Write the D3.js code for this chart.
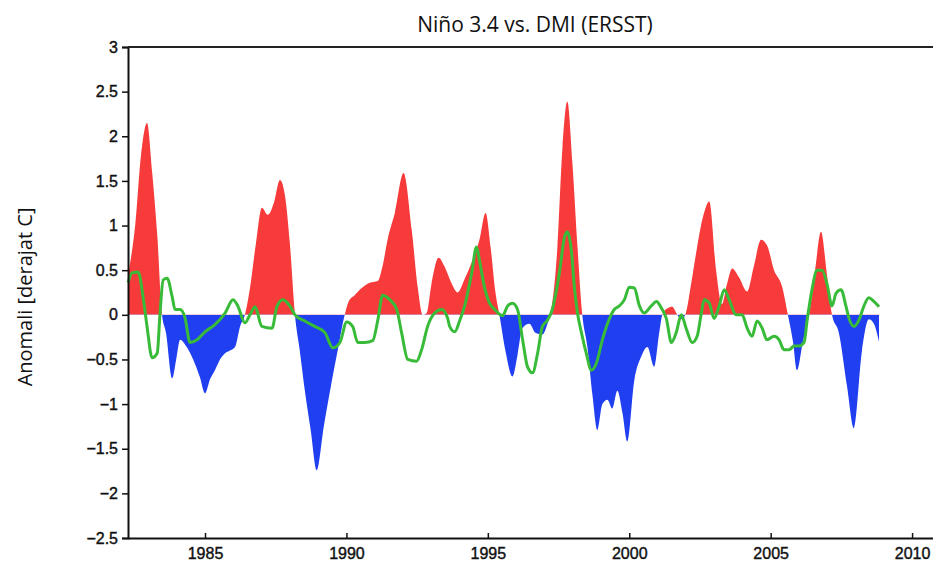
<!doctype html>
<html>
  <head>
    <meta charset="utf-8">
    <title>Nino 3.4 vs DMI</title>
    <script src="https://d3js.org/d3.v7.min.js"></script>
    <style type="text/css">
      body { margin: 0; background-color: #ffffff; }
      svg { display: block; }
    </style>
  </head>
  <body>
    <script>
// Niño 3.4 anomaly (filled red / blue)
var ninoYears = [1982.28, 1982.53, 1982.74, 1982.95, 1983.13, 1983.31, 1983.48, 1983.62, 1983.84, 1983.98,
  1984.12, 1984.33, 1984.58, 1984.82, 1985.00, 1985.18, 1985.35, 1985.53, 1985.71, 1985.88,
  1986.06, 1986.24, 1986.41, 1986.59, 1986.80, 1987.01, 1987.22, 1987.43, 1987.65, 1987.82,
  1988.00, 1988.18, 1988.35, 1988.53, 1988.74, 1988.95, 1989.20, 1989.45, 1989.69, 1989.94,
  1990.08, 1990.29, 1990.54, 1990.82, 1991.11, 1991.28, 1991.46, 1991.71, 1992.02, 1992.31,
  1992.52, 1992.70, 1992.84, 1993.01, 1993.26, 1993.47, 1993.72, 1993.93, 1994.18, 1994.42,
  1994.71, 1994.92, 1995.10, 1995.27, 1995.41, 1995.62, 1995.87, 1996.05, 1996.22, 1996.47,
  1996.68, 1996.93, 1997.11, 1997.21, 1997.46, 1997.64, 1997.81, 1997.99, 1998.17, 1998.34,
  1998.52, 1998.70, 1998.87, 1999.05, 1999.23, 1999.40, 1999.58, 1999.76, 1999.93, 2000.18,
  2000.42, 2000.64, 2000.88, 2001.06, 2001.17, 2001.34, 2001.52, 2001.70, 2001.84, 2001.98,
  2002.19, 2002.40, 2002.61, 2002.83, 2003.07, 2003.28, 2003.46, 2003.64, 2003.88, 2004.17,
  2004.41, 2004.66, 2004.87, 2005.12, 2005.40, 2005.61, 2005.79, 2005.93, 2006.14, 2006.36,
  2006.57, 2006.78, 2006.99, 2007.17, 2007.41, 2007.70, 2007.94, 2008.23, 2008.47, 2008.65,
  2008.83];
var ninoValues = [0.45, 1.0, 1.8, 2.15, 1.6, 0.9, 0.0, -0.2, -0.71, -0.5,
  -0.28, -0.35, -0.5, -0.7, -0.88, -0.72, -0.62, -0.5, -0.43, -0.4,
  -0.36, -0.13, 0.0, 0.3, 0.8, 1.2, 1.12, 1.25, 1.51, 1.35,
  0.8, 0.0, -0.4, -0.85, -1.3, -1.74, -1.25, -0.8, -0.4, 0.0,
  0.15, 0.22, 0.3, 0.36, 0.38, 0.55, 0.85, 1.14, 1.59, 0.95,
  0.31, 0.0, 0.02, 0.35, 0.64, 0.54, 0.35, 0.25, 0.4, 0.58,
  0.85, 1.14, 0.75, 0.25, 0.0, -0.4, -0.69, -0.45, -0.15, -0.1,
  -0.2, -0.22, -0.1, 0.0, 0.76, 1.88, 2.39, 1.7, 0.76, 0.0,
  -0.36, -0.9, -1.29, -1.0, -0.95, -1.05, -0.85, -1.1, -1.42, -0.73,
  -0.47, -0.36, -0.58, -0.2, 0.0, 0.07, 0.09, 0.0, -0.05, 0.0,
  0.35, 0.76, 1.1, 1.27, 0.5, 0.12, 0.35, 0.52, 0.42, 0.26,
  0.55, 0.84, 0.78, 0.5, 0.32, 0.0, -0.3, -0.62, -0.3, 0.0,
  0.5, 0.93, 0.45, 0.0, -0.2, -0.8, -1.27, -0.4, -0.05, -0.1,
  -0.3];

// DMI (green line)
var dmiYears = [1982.28, 1982.42, 1982.64, 1982.81, 1982.95, 1983.13, 1983.31, 1983.41, 1983.52, 1983.66,
  1983.84, 1983.94, 1984.12, 1984.29, 1984.47, 1984.72, 1985.00, 1985.35, 1985.71, 1985.99,
  1986.16, 1986.41, 1986.59, 1986.77, 1987.01, 1987.37, 1987.54, 1987.75, 1988.00, 1988.18,
  1988.53, 1988.88, 1989.24, 1989.52, 1989.77, 1990.01, 1990.22, 1990.40, 1990.65, 1990.93,
  1991.11, 1991.28, 1991.53, 1991.78, 1991.95, 1992.17, 1992.48, 1992.66, 1992.87, 1993.12,
  1993.37, 1993.58, 1993.65, 1993.83, 1994.00, 1994.18, 1994.43, 1994.60, 1994.71, 1994.88,
  1995.06, 1995.24, 1995.52, 1995.70, 1995.87, 1996.05, 1996.23, 1996.40, 1996.58, 1996.76,
  1996.93, 1997.11, 1997.28, 1997.53, 1997.71, 1997.81, 1997.96, 1998.06, 1998.17, 1998.31,
  1998.48, 1998.66, 1998.84, 1999.05, 1999.23, 1999.47, 1999.65, 1999.83, 2000.00, 2000.18,
  2000.36, 2000.53, 2000.78, 2000.96, 2001.13, 2001.31, 2001.49, 2001.66, 2001.84, 2002.01,
  2002.23, 2002.40, 2002.54, 2002.65, 2002.83, 2003.00, 2003.18, 2003.36, 2003.53, 2003.78,
  2003.99, 2004.17, 2004.34, 2004.52, 2004.70, 2004.87, 2005.12, 2005.30, 2005.47, 2005.65,
  2005.83, 2006.00, 2006.18, 2006.29, 2006.46, 2006.64, 2006.82, 2006.99, 2007.17, 2007.31,
  2007.49, 2007.66, 2007.77, 2007.95, 2008.12, 2008.30, 2008.47, 2008.65, 2008.83];
var dmiValues = [0.36, 0.47, 0.48, 0.2, -0.13, -0.48, -0.43, 0.02, 0.39, 0.41,
  0.2, 0.06, 0.06, -0.03, -0.31, -0.28, -0.19, -0.11, 0.02, 0.17,
  0.1, -0.09, 0.0, 0.09, -0.13, -0.15, 0.09, 0.17, 0.1, 0.0,
  -0.07, -0.13, -0.2, -0.37, -0.31, -0.08, -0.13, -0.31, -0.31, -0.29,
  -0.06, 0.22, 0.17, 0.06, -0.2, -0.5, -0.52, -0.39, -0.13, 0.02,
  0.06, -0.04, -0.13, -0.19, -0.07, 0.1, 0.47, 0.76, 0.6, 0.31,
  0.13, 0.06, -0.01, 0.1, 0.13, 0.06, -0.28, -0.58, -0.65, -0.43,
  -0.13, -0.06, 0.06, 0.47, 0.87, 0.93, 0.7, 0.31, 0.02, -0.2,
  -0.43, -0.62, -0.54, -0.28, -0.1, 0.06, 0.1, 0.17, 0.31, 0.3,
  0.1, 0.02, 0.1, 0.15, 0.08, -0.04, -0.31, -0.2, 0.0, -0.15,
  -0.31, -0.24, 0.0, 0.17, 0.13, -0.04, 0.1, 0.28, 0.17, 0.0,
  0.0, -0.15, -0.24, -0.07, -0.15, -0.28, -0.24, -0.28, -0.39, -0.39,
  -0.35, -0.35, -0.31, -0.06, 0.28, 0.5, 0.5, 0.35, 0.1, 0.24,
  0.28, 0.1, -0.04, -0.13, -0.06, 0.1, 0.19, 0.15, 0.09];

var xTicks = [1985, 1990, 1995, 2000, 2005, 2010];
var yTicks = [-2.5, -2, -1.5, -1, -0.5, 0, 0.5, 1, 1.5, 2, 2.5, 3];

var titleText = "Niño 3.4 vs. DMI (ERSST)";
var yLabelText = "Anomali [derajat C]";

var w = 933, h = 563;
var margin = {top: 47, right: 0, bottom: 25, left: 128};
var iw = w - margin.left - margin.right;
var ih = h - margin.top - margin.bottom;

var x = d3.scaleLinear()
  .domain([1982.277, 2010.74])
  .range([0, iw]);
var y = d3.scaleLinear()
  .domain([-2.5, 3])
  .range([ih, 0]);

var svg = d3.select("body")
  .append("svg")
  .attr("width", w)
  .attr("height", h);

var g = svg.append("g")
  .attr("transform", "translate(" + margin.left + "," + margin.top + ")");

var nino = ninoYears.map(function(d, i) { return {t: d, v: ninoValues[i]}; });
var dmi = dmiYears.map(function(d, i) { return {t: d, v: dmiValues[i]}; });

// clip regions above and below zero
var defs = svg.append("defs");
defs.append("clipPath").attr("id", "above")
  .append("rect").attr("x", 0).attr("y", 0).attr("width", iw).attr("height", y(0));
defs.append("clipPath").attr("id", "below")
  .append("rect").attr("x", 0).attr("y", y(0)).attr("width", iw).attr("height", ih - y(0));

var area = d3.area()
  .x(function(d) { return x(d.t); })
  .y0(y(0))
  .y1(function(d) { return y(d.v); })
  .curve(d3.curveMonotoneX);

g.append("path")
  .datum(nino)
  .attr("clip-path", "url(#above)")
  .attr("d", area)
  .style("fill", "#f73a3a");

g.append("path")
  .datum(nino)
  .attr("clip-path", "url(#below)")
  .attr("d", area)
  .style("fill", "#1f3ff0");

var line = d3.line()
  .x(function(d) { return x(d.t); })
  .y(function(d) { return y(d.v); })
  .curve(d3.curveMonotoneX);

g.append("path")
  .datum(dmi)
  .attr("d", line)
  .style("fill", "none")
  .style("stroke", "#38bb38")
  .style("stroke-width", 3)
  .style("stroke-linejoin", "round");

// axes
var tickFont = "'Liberation Sans', Arial, sans-serif";

var yAxis = g.append("g")
  .call(d3.axisLeft(y).tickValues(yTicks).tickSize(6).tickPadding(4)
    .tickFormat(d3.format("")));
yAxis.select(".domain").attr("stroke", "#111").attr("stroke-width", 2);
yAxis.selectAll(".tick line").attr("stroke", "#111").attr("stroke-width", 1.5);
yAxis.selectAll("text")
  .style("font-family", tickFont)
  .style("font-size", "16px")
  .style("fill", "#111")
  .style("stroke", "#111")
  .style("stroke-width", 0.4);

var xAxis = g.append("g")
  .attr("transform", "translate(0," + ih + ")")
  .call(d3.axisBottom(x).tickValues(xTicks).tickSizeInner(-5).tickSizeOuter(0).tickPadding(10)
    .tickFormat(d3.format("d")));
xAxis.select(".domain").attr("stroke", "#111").attr("stroke-width", 2);
xAxis.selectAll(".tick line").attr("stroke", "#111").attr("stroke-width", 1.5);
xAxis.selectAll("text")
  .style("font-family", tickFont)
  .style("font-size", "16px")
  .style("fill", "#111")
  .style("stroke", "#111")
  .style("stroke-width", 0.4);

// top frame line
g.append("line")
  .attr("x1", 0).attr("x2", iw)
  .attr("y1", 0).attr("y2", 0)
  .attr("stroke", "#222")
  .attr("stroke-width", 2);

// title
svg.append("text")
  .attr("x", 535)
  .attr("y", 32)
  .attr("text-anchor", "middle")
  .style("font-family", "'Open Sans', sans-serif")
  .style("font-size", "21px")
  .style("fill", "#111")
  .text(titleText);

// y label
svg.append("text")
  .attr("transform", "translate(32," + (margin.top + y(0.2)) + ") rotate(-90)")
  .attr("text-anchor", "middle")
  .style("font-family", "'Open Sans', sans-serif")
  .style("font-size", "20px")
  .style("fill", "#111")
  .text(yLabelText);
    </script>
  </body>
</html>
